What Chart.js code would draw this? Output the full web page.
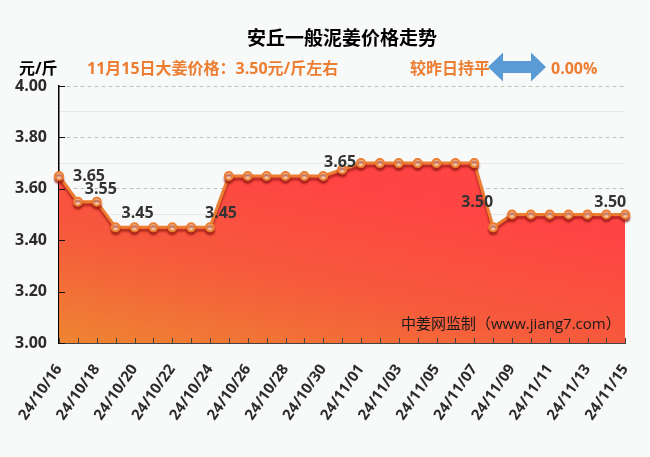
<!DOCTYPE html>
<html>
<head>
<meta charset="utf-8">
<script src="https://cdn.jsdelivr.net/npm/chart.js@4.4.1/dist/chart.umd.min.js"></script>
<style>
html, body { margin: 0; padding: 0; background: #f8f9f9; }
#wrap { width: 650px; height: 457px; }
</style>
</head>
<body>
<div id="wrap"><canvas id="chart"></canvas></div>
<script>
const dates = [
    '24/10/16', '24/10/17', '24/10/18', '24/10/19', '24/10/20', '24/10/21', '24/10/22', '24/10/23',
    '24/10/24', '24/10/25', '24/10/26', '24/10/27', '24/10/28', '24/10/29', '24/10/30', '24/10/31',
    '24/11/01', '24/11/02', '24/11/03', '24/11/04', '24/11/05', '24/11/06', '24/11/07', '24/11/08',
    '24/11/09', '24/11/10', '24/11/11', '24/11/12', '24/11/13', '24/11/14', '24/11/15'
];
const prices = [
    3.65, 3.55, 3.55, 3.45, 3.45, 3.45, 3.45, 3.45,
    3.45, 3.65, 3.65, 3.65, 3.65, 3.65, 3.65, 3.675,
    3.70, 3.70, 3.70, 3.70, 3.70, 3.70, 3.70, 3.45,
    3.50, 3.50, 3.50, 3.50, 3.50, 3.50, 3.50
];
// data labels as shown on the picture
const labelIdx = [0, 1, 3, 8, 15, 23, 30];
const labelText = ['3.65', '3.55', '3.45', '3.45', '3.65', '3.50', '3.50'];

const FONT = "'Open Sans', 'Noto Sans CJK SC', sans-serif";
const ORANGE = '#ed7d31';

function isMajor(v) {
    return Math.round(v * 10) % 2 === 0;
}

const decor = {
    id: 'decor',
    beforeDraw(chart) {
        const ctx = chart.ctx;
        ctx.save();
        ctx.fillStyle = '#f8f9f9';
        ctx.fillRect(0, 0, chart.width, chart.height);
        ctx.restore();
    },
    beforeDatasetDraw(chart, args) {
        if (args.index !== 0) return;
        const ctx = chart.ctx;
        ctx.save();
        ctx.shadowColor = 'rgba(150, 25, 20, 0.7)';
        ctx.shadowOffsetY = 3;
        ctx.shadowBlur = 2;
    },
    afterDatasetDraw(chart, args) {
        if (args.index !== 0) return;
        chart.ctx.restore();
    },
    afterDraw(chart) {
        const ctx = chart.ctx;
        const a = chart.chartArea;
        const xs = chart.scales.x, ys = chart.scales.y;
        ctx.save();

        // tick marks pointing inward
        ctx.strokeStyle = '#111';
        ctx.lineWidth = 1;
        for (let v = 3; v <= 4.001; v += 0.2) {
            const y = Math.round(ys.getPixelForValue(v)) + 0.5;
            ctx.beginPath();
            ctx.moveTo(a.left, y);
            ctx.lineTo(a.left + 6, y);
            ctx.stroke();
        }
        ctx.strokeStyle = '#444';
        for (let i = 0; i < dates.length; i++) {
            const x = Math.round(xs.getPixelForValue(i)) + 0.5;
            ctx.beginPath();
            ctx.moveTo(x, a.bottom);
            ctx.lineTo(x, a.bottom - 5);
            ctx.stroke();
        }

        // watermark
        ctx.fillStyle = '#1a1a1a';
        ctx.font = '15px ' + FONT;
        ctx.textAlign = 'left';
        ctx.textBaseline = 'middle';
        ctx.fillText('中姜网监制（www.jiang7.com）', 401, 325);

        // data labels
        ctx.fillStyle = '#333';
        ctx.font = 'bold 16px ' + FONT;
        ctx.textAlign = 'center';
        const offs = [[30, 0], [23, -12], [22, -14], [11, -14], [-2, -7], [-16, -25], [-15, -12]];
        labelIdx.forEach((idx, k) => {
            const x = xs.getPixelForValue(idx);
            const y = ys.getPixelForValue(prices[idx]);
            ctx.fillText(labelText[k], x + offs[k][0], y + offs[k][1]);
        });

        // header
        ctx.fillStyle = '#000';
        ctx.font = 'bold 19px ' + FONT;
        ctx.fillText('安丘一般泥姜价格走势', 342, 40);
        ctx.font = 'bold 16px ' + FONT;
        ctx.textAlign = 'left';
        ctx.fillText('元/斤', 19, 69);
        ctx.fillStyle = ORANGE;
        ctx.fillText('11月15日大姜价格：3.50元/斤左右', 87, 69);
        ctx.fillText('较昨日持平', 410, 69);
        ctx.fillText('0.00%', 551, 69);

        // double arrow
        const x0 = 488, x1 = 546, cy = 67, head = 15, hh = 14.5, sh = 6;
        ctx.fillStyle = '#5b9bd5';
        ctx.beginPath();
        ctx.moveTo(x0, cy);
        ctx.lineTo(x0 + head, cy - hh);
        ctx.lineTo(x0 + head, cy - sh);
        ctx.lineTo(x1 - head, cy - sh);
        ctx.lineTo(x1 - head, cy - hh);
        ctx.lineTo(x1, cy);
        ctx.lineTo(x1 - head, cy + hh);
        ctx.lineTo(x1 - head, cy + sh);
        ctx.lineTo(x0 + head, cy + sh);
        ctx.lineTo(x0 + head, cy + hh);
        ctx.closePath();
        ctx.fill();

        ctx.restore();
    }
};

function areaGradient(context) {
    const chart = context.chart;
    const a = chart.chartArea;
    if (!a) return ORANGE;
    const g = chart.ctx.createLinearGradient(a.left, a.bottom, a.left + 60, a.bottom - 300);
    g.addColorStop(0, '#ee8532');
    g.addColorStop(0.35, '#f65a3c');
    g.addColorStop(0.7, '#ff4444');
    g.addColorStop(1, '#ff4343');
    return g;
}

new Chart(document.getElementById('chart'), {
    type: 'line',
    data: {
        labels: dates,
        datasets: [
            {
                data: prices,
                borderColor: ORANGE,
                borderWidth: 3,
                pointRadius: 4,
                pointBorderWidth: 2,
                pointBorderColor: ORANGE,
                pointBackgroundColor: '#fbd3ad',
                fill: false,
                tension: 0
            },
            {
                data: prices,
                borderWidth: 0,
                pointRadius: 0,
                backgroundColor: areaGradient,
                fill: 'start',
                tension: 0
            }
        ]
    },
    options: {
        responsive: true,
        maintainAspectRatio: false,
        animation: false,
        layout: { padding: { top: 86, right: 21, left: 0, bottom: 0 } },
        scales: {
            x: {
                offset: false,
                grid: { display: false },
                border: { display: true, color: '#444', width: 2 },
                afterFit: (s) => { s.height = 114; },
                ticks: {
                    autoSkip: false,
                    minRotation: 55,
                    maxRotation: 55,
                    padding: 10,
                    color: '#2b2b2b',
                    font: { family: FONT, size: 15, weight: 'bold' },
                    callback: function(value, index) {
                        return index % 2 === 0 ? dates[index] : '';
                    }
                }
            },
            y: {
                min: 3,
                max: 4,
                afterFit: (s) => { s.width = 59; },
                border: {
                    display: true,
                    color: '#000',
                    width: 1.5,
                    dash: (c) => (c.tick && isMajor(c.tick.value)) ? [4, 3] : []
                },
                grid: {
                    drawTicks: false,
                    color: (c) => (c.tick && isMajor(c.tick.value)) ? '#c2c2c2' : '#e8e8e8',
                    lineWidth: 1
                },
                ticks: {
                    stepSize: 0.1,
                    padding: 12,
                    color: '#2b2b2b',
                    font: { family: FONT, size: 16, weight: 'bold' },
                    callback: (v) => isMajor(v) ? Number(v).toFixed(2) : ''
                }
            }
        },
        plugins: {
            legend: { display: false },
            tooltip: { enabled: false },
            title: { display: false }
        }
    },
    plugins: [decor]
});
</script>
</body>
</html>
